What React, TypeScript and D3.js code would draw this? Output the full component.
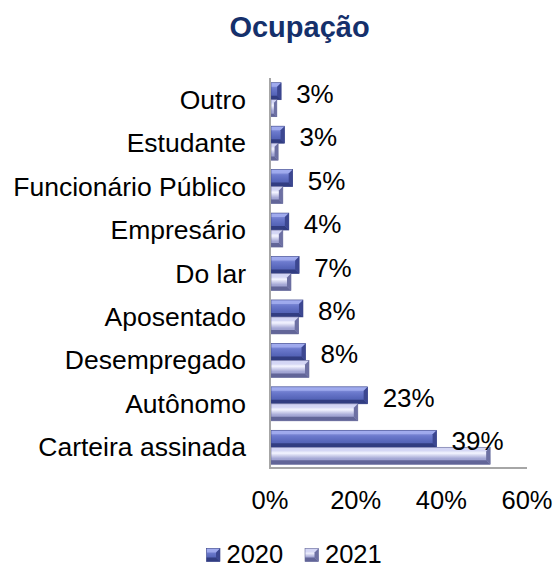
import React from "react";
import * as d3 from "d3";

const categories = [
  "Outro",
  "Estudante",
  "Funcionário Público",
  "Empresário",
  "Do lar",
  "Aposentado",
  "Desempregado",
  "Autônomo",
  "Carteira assinada",
];
const values2020 = [2.6, 3.4, 5.3, 4.4, 6.8, 7.7, 8.3, 22.8, 38.9];
const values2021 = [1.6, 1.9, 3.0, 3.0, 4.9, 6.7, 9.1, 20.5, 51.4];
const valueLabels = ["3%", "3%", "5%", "4%", "7%", "8%", "8%", "23%", "39%"];
const xTicks = [0, 20, 40, 60];
const seriesNames = ["2020", "2021"];
const title = "Ocupação";

const W = 558;
const H = 566;
const FONT = "'Liberation Sans', Arial, sans-serif";

const series = [
  {
    name: seriesNames[0],
    values: values2020,
    stops: ["#9aa5ea", "#6b79cc", "#5867bb", "#4a58a8"],
    top: "#a3aef0",
    bottom: "#2f3a7c",
    right: "#3c4791",
    stroke: "#3a4488",
  },
  {
    name: seriesNames[1],
    values: values2021,
    stops: ["#c2c5ec", "#f2f3ff", "#a6a9d6", "#8e91c2"],
    top: "#d4d6f4",
    bottom: "#5c5f92",
    right: "#6d70a3",
    stroke: "#676a9a",
  },
];

function Bevel({ x0, x1, y0, y1, s, gid }: any) {
  const w = x1 - x0;
  const h = y1 - y0;
  if (w <= 0) return null;
  const b = Math.min(4, w / 2, h / 3);
  return (
    <g>
      <rect x={x0} y={y0} width={w} height={h} fill={`url(#${gid})`} />
      <polygon
        points={`${x0},${y0} ${x1},${y0} ${x1 - b},${y0 + b} ${x0},${y0 + b}`}
        fill={s.top}
        opacity={0.85}
      />
      <polygon
        points={`${x0},${y1 - b} ${x1 - b},${y1 - b} ${x1},${y1} ${x0},${y1}`}
        fill={s.bottom}
        opacity={0.9}
      />
      <polygon
        points={`${x1},${y0} ${x1},${y1} ${x1 - b},${y1 - b} ${x1 - b},${y0 + b}`}
        fill={s.right}
      />
      <rect x={x0} y={y0} width={w} height={h} fill="none" stroke={s.stroke} strokeWidth={0.6} />
    </g>
  );
}

export default function App() {
  const x = d3.scaleLinear().domain([0, 60]).range([270, 527]);
  const y = d3.scaleBand<string>().domain(categories).range([78, 469]).padding(0);
  const barH = 17;

  return (
    <svg width={W} height={H} style={{ position: "absolute", left: 0, top: 0, background: "#fff" }}>
      <defs>
        {series.map((s, i) => (
          <linearGradient key={i} id={`g${i}`} x1="0" y1="0" x2="0" y2="1">
            <stop offset="0" stopColor={s.stops[0]} />
            <stop offset="0.35" stopColor={s.stops[1]} />
            <stop offset="0.65" stopColor={s.stops[2]} />
            <stop offset="1" stopColor={s.stops[3]} />
          </linearGradient>
        ))}
      </defs>

      <text x={299.5} y={37} textAnchor="middle" fontFamily={FONT} fontWeight="bold" fontSize={29} fill="#15306b">
        {title}
      </text>

      {/* bars */}
      {categories.map((c, ci) => {
        const cy = (y(c) as number) + y.bandwidth() / 2;
        return (
          <g key={c}>
            {series.map((s, si) => {
              const y0 = cy - barH + si * barH;
              return (
                <Bevel key={si} x0={x(0) + 1} x1={x(s.values[ci])} y0={y0} y1={y0 + barH} s={s} gid={`g${si}`} />
              );
            })}
            <text x={x(values2020[ci]) + 15} y={cy + 3} fontFamily={FONT} fontSize={26} fill="#000">
              {valueLabels[ci]}
            </text>
            <text x={246} y={cy + 9} textAnchor="end" fontFamily={FONT} fontSize={26.5} fill="#000">
              {c}
            </text>
          </g>
        );
      })}

      {/* axes */}
      <line x1={x(0)} x2={x(0)} y1={78} y2={469} stroke="#a6a6a6" strokeWidth={2} />
      <line x1={x(0) - 1} x2={x(60)} y1={468} y2={468} stroke="#a6a6a6" strokeWidth={2} />
      {xTicks.map((t) => (
        <text key={t} x={x(t)} y={509} textAnchor="middle" fontFamily={FONT} fontSize={25.5} fill="#000">
          {t}%
        </text>
      ))}

      {/* legend */}
      {series.map((s, i) => {
        const lx = i === 0 ? 206.5 : 305;
        return (
          <g key={s.name}>
            <Bevel x0={lx} x1={lx + 13.5} y0={548.5} y1={561.5} s={s} gid={`g${i}`} />
            <text x={lx + 20} y={562.5} fontFamily={FONT} fontSize={25.5} fill="#000">
              {s.name}
            </text>
          </g>
        );
      })}
    </svg>
  );
}
